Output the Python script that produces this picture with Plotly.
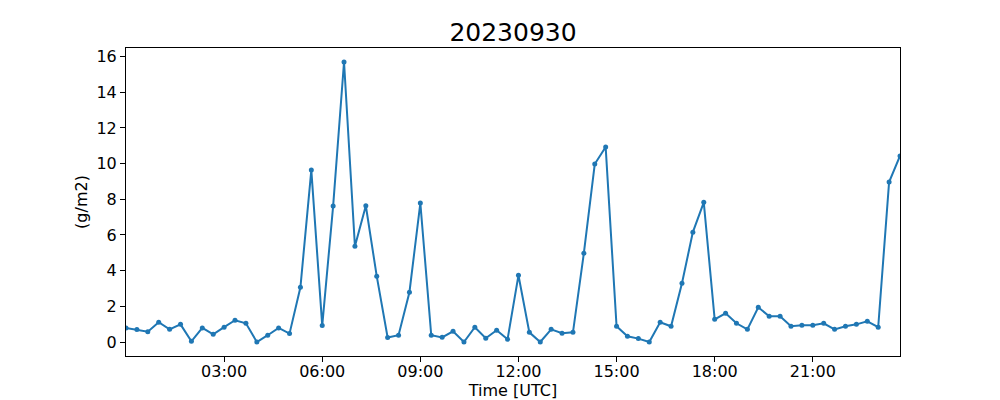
import pandas as pd
import plotly.graph_objects as go

title_text = "20230930"
times = pd.date_range("2023-09-30 00:00", periods=72, freq="20min")
values = [
    0.79, 0.70, 0.58, 1.11, 0.71, 0.99, 0.04, 0.79, 0.43, 0.83, 1.22, 1.05,
    0.00, 0.38, 0.79, 0.47, 3.07, 9.64, 0.92, 7.62, 15.70, 5.37, 7.64, 3.69,
    0.25, 0.38, 2.79, 7.79, 0.38, 0.26, 0.60, 0.00, 0.83, 0.21, 0.66, 0.15,
    3.74, 0.54, 0.00, 0.71, 0.49, 0.54, 4.98, 9.98, 10.93, 0.88, 0.32, 0.19,
    0.00, 1.11, 0.88, 3.30, 6.16, 7.83, 1.27, 1.61, 1.05, 0.71, 1.95, 1.44,
    1.44, 0.88, 0.94, 0.94, 1.05, 0.71, 0.88, 0.99, 1.16, 0.83, 8.97, 10.43,
]
xtick_vals = ["2023-09-30 03:00", "2023-09-30 06:00", "2023-09-30 09:00",
              "2023-09-30 12:00", "2023-09-30 15:00", "2023-09-30 18:00",
              "2023-09-30 21:00"]
xtick_text = ["03:00", "06:00", "09:00", "12:00", "15:00", "18:00", "21:00"]
ytick_vals = [0, 2, 4, 6, 8, 10, 12, 14, 16]

ymin, ymax = min(values), max(values)
pad = (ymax - ymin) * 0.05

fig = go.Figure()
fig.add_trace(go.Scatter(
    x=times, y=values, mode="lines+markers",
    line=dict(color="#1f77b4", width=2),
    marker=dict(color="#1f77b4", size=5),
    showlegend=False,
))

font = "DejaVu Sans"
fig.update_layout(
    width=1000, height=400,
    margin=dict(l=126, r=100, t=48, b=44, autoexpand=False),
    paper_bgcolor="white", plot_bgcolor="white",
    font=dict(family=font, size=16, color="black"),
    title=dict(text=title_text, x=0.513, xanchor="center", y=1 - 32 / 400,
               yanchor="middle", yref="container",
               font=dict(family=font, size=25, color="black")),
)
fig.update_xaxes(
    type="date", range=[times[0], times[-1]],
    tickvals=xtick_vals, ticktext=xtick_text,
    showline=True, linecolor="black", linewidth=1, mirror=True,
    ticks="outside", ticklen=5, tickwidth=1, tickcolor="black",
    showgrid=False, zeroline=False, automargin=False,
    ticklabelstandoff=-4,
    tickfont=dict(family=font, size=16),
    title=dict(text="Time [UTC]", standoff=9, font=dict(family=font, size=16)),
)
fig.update_yaxes(
    range=[ymin - pad, ymax + pad],
    tickvals=ytick_vals,
    showline=True, linecolor="black", linewidth=1, mirror=True,
    ticks="outside", ticklen=5, tickwidth=1, tickcolor="black",
    showgrid=False, zeroline=False, automargin=False,
    tickfont=dict(family=font, size=16),
    title=dict(text="(g/m2)", standoff=4, font=dict(family=font, size=16)),
)

fig.write_html("out.html", config={"displayModeBar": False},
               post_script="document.body.style.margin='0';document.body.style.overflow='hidden';")
